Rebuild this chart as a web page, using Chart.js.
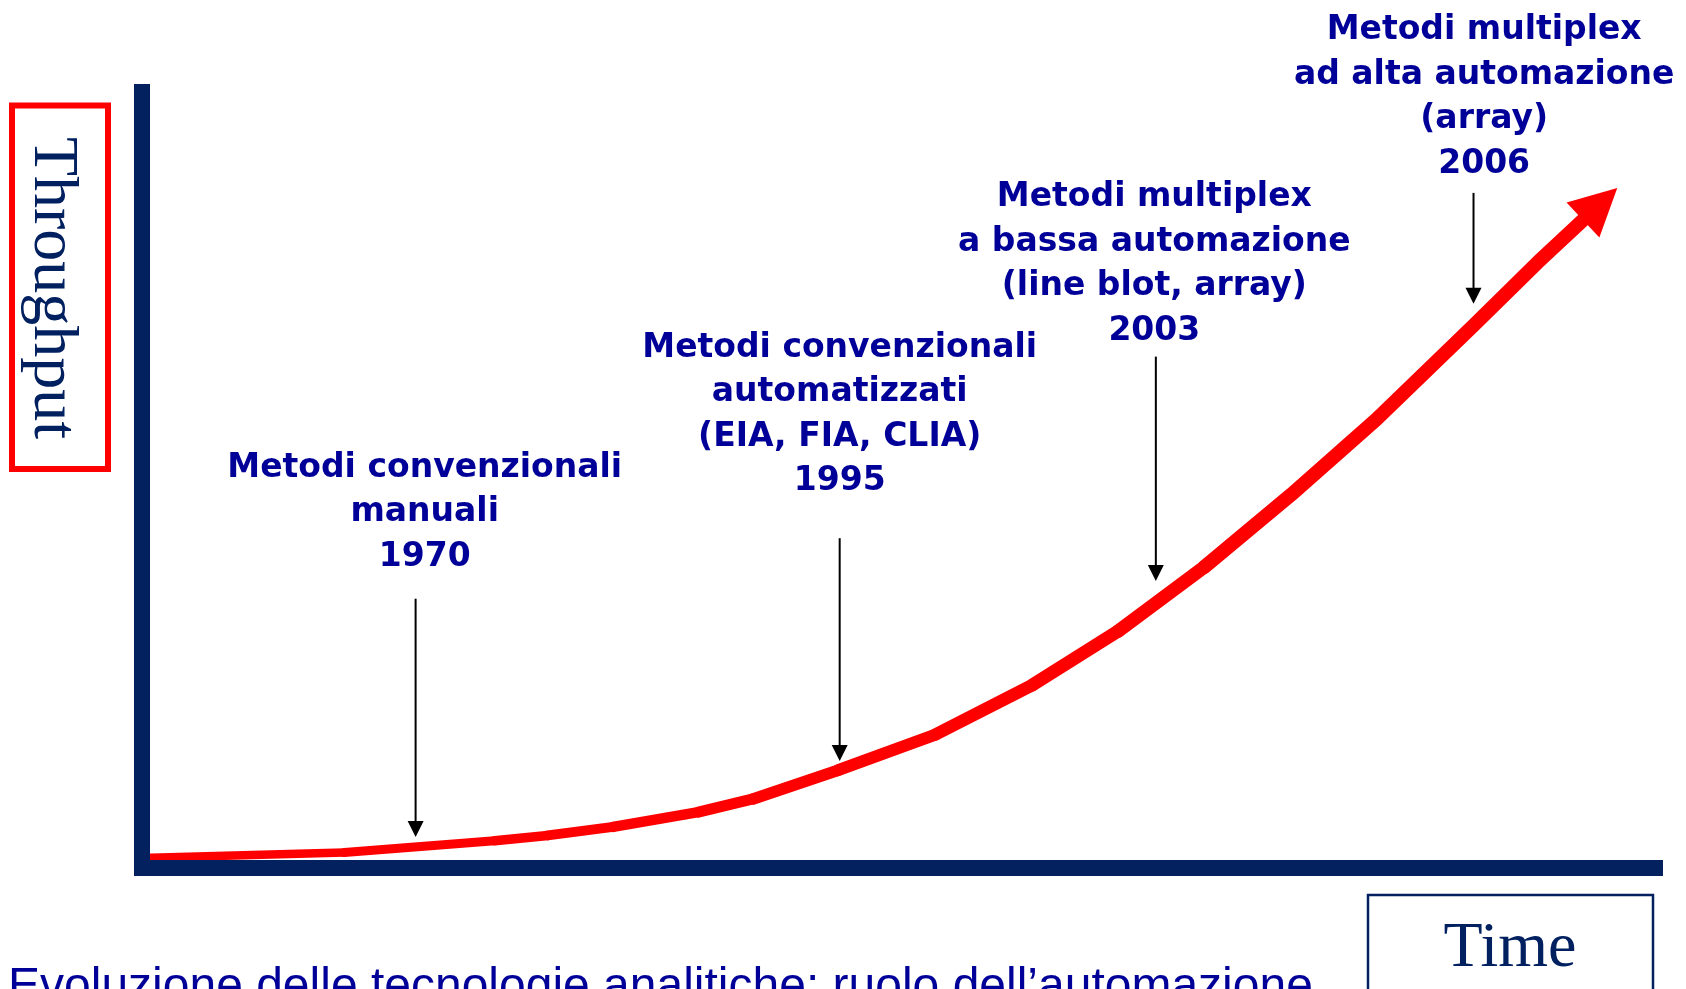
<!DOCTYPE html>
<html>
<head>
<meta charset="utf-8">
<script src="https://cdn.jsdelivr.net/npm/chart.js@4.4.0/dist/chart.umd.min.js"></script>
<style>
  html, body { margin: 0; padding: 0; background: #fff; overflow: hidden; }
  #wrap { width: 1686px; height: 989px; }
</style>
</head>
<body>
<div id="wrap"><canvas id="chart" width="1686" height="989"></canvas></div>
<script>
// Curve: time (0-100, no units) vs throughput (0-100)
const timeValues = [0, 13.3, 23.2, 26.7, 31.0, 36.6, 40.2, 45.8, 52.2, 58.6, 64.2, 69.9, 75.6, 81.2, 87.6, 91.8, 94.8];
const throughputValues = [1.3, 2.0, 3.5, 4.2, 5.3, 7.2, 8.9, 12.6, 17.2, 23.6, 30.5, 38.8, 48.1, 57.8, 69.9, 78.0, 83.5];

// Milestones along the curve
const milestoneYears = ['1970', '1995', '2003', '2006'];
const milestoneLabels = [
    ['Metodi convenzionali', 'manuali'],
    ['Metodi convenzionali', 'automatizzati', '(EIA, FIA, CLIA)'],
    ['Metodi multiplex', 'a bassa automazione', '(line blot, array)'],
    ['Metodi multiplex', 'ad alta automazione', '(array)']
];
const milestoneTime = [18.0, 45.9, 66.7, 87.6];
const arrowTip = [4.0, 13.8, 37.0, 72.7];
const arrowTail = [34.7, 42.5, 65.9, 87.0];
const labelTime = [18.6, 45.9, 66.6, 88.3];
const labelTop = [51.5, 67.0, 86.4, 107.9];

const yAxisTitle = 'Throughput';
const xAxisTitle = 'Time';
const caption = 'Evoluzione delle tecnologie analitiche: ruolo dell\u2019automazione';

const NAVY = '#03205f';
const LABEL_BLUE = '#000099';
const RED = '#ff0000';

const overlay = {
    id: 'overlay',
    afterDatasetsDraw(chart) {
        // arrowhead at the end of the red curve
        const ctx = chart.ctx;
        const pts = chart.getDatasetMeta(0).data;
        const a = pts[pts.length - 2], b = pts[pts.length - 1];
        const len = Math.hypot(b.x - a.x, b.y - a.y);
        const ux = (b.x - a.x) / len, uy = (b.y - a.y) / len;
        const L = 47, W = 24;
        ctx.save();
        ctx.fillStyle = RED;
        ctx.beginPath();
        ctx.moveTo(b.x + ux * L, b.y + uy * L);
        ctx.lineTo(b.x - uy * W, b.y + ux * W);
        ctx.lineTo(b.x + uy * W, b.y - ux * W);
        ctx.closePath();
        ctx.fill();
        ctx.restore();
    },
    afterDraw(chart) {
        const {ctx, scales: {x, y}} = chart;
        ctx.save();

        // milestone arrows + labels
        milestoneYears.forEach((year, i) => {
            const ax = x.getPixelForValue(milestoneTime[i]);
            const top = y.getPixelForValue(arrowTail[i]);
            const tip = y.getPixelForValue(arrowTip[i]);
            ctx.strokeStyle = '#000';
            ctx.lineWidth = 2;
            ctx.beginPath();
            ctx.moveTo(ax, top);
            ctx.lineTo(ax, tip - 12);
            ctx.stroke();
            ctx.fillStyle = '#000';
            ctx.beginPath();
            ctx.moveTo(ax - 8, tip - 16);
            ctx.lineTo(ax + 8, tip - 16);
            ctx.lineTo(ax, tip);
            ctx.closePath();
            ctx.fill();

            const lx = x.getPixelForValue(labelTime[i]);
            const ly = y.getPixelForValue(labelTop[i]);
            ctx.fillStyle = LABEL_BLUE;
            ctx.font = 'bold 33px "DejaVu Sans", Verdana, sans-serif';
            ctx.textAlign = 'center';
            ctx.textBaseline = 'middle';
            [...milestoneLabels[i], year].forEach((t, k) => {
                ctx.fillText(t, lx, ly + k * 44.5);
            });
        });

        // y axis title in red box
        ctx.strokeStyle = RED;
        ctx.lineWidth = 6;
        ctx.strokeRect(12, 105.5, 96, 363.5);
        ctx.save();
        ctx.translate(35, 288);
        ctx.rotate(Math.PI / 2);
        ctx.fillStyle = '#002060';
        ctx.font = '64px "Liberation Serif", "Times New Roman", serif';
        ctx.textAlign = 'center';
        ctx.textBaseline = 'alphabetic';
        ctx.fillText(yAxisTitle, 0, 0);
        ctx.restore();

        // x axis title box
        ctx.strokeStyle = NAVY;
        ctx.lineWidth = 2.5;
        ctx.strokeRect(1368, 895, 285, 120);
        ctx.fillStyle = '#002060';
        ctx.font = '64px "Liberation Serif", "Times New Roman", serif';
        ctx.textAlign = 'center';
        ctx.textBaseline = 'alphabetic';
        ctx.fillText(xAxisTitle, 1510, 966);

        // caption
        ctx.fillStyle = LABEL_BLUE;
        ctx.font = '48px "Liberation Sans", Arial, sans-serif';
        ctx.textAlign = 'left';
        ctx.fillText(caption, 8, 1001);

        ctx.restore();
    }
};

const ctx = document.getElementById('chart').getContext('2d');
new Chart(ctx, {
    type: 'line',
    data: {
        datasets: [{
            data: timeValues.map((t, i) => ({x: t, y: throughputValues[i]})),
            borderColor: RED,
            borderWidth: 11,
            borderCapStyle: 'round',
            borderJoinStyle: 'round',
            pointRadius: 0,
            tension: 0,
            fill: false,
            segment: {
                // the stroke gets a bit thicker as it climbs
                borderWidth: c => Math.min(8.5 + c.p0DataIndex * 0.5, 14)
            }
        }]
    },
    options: {
        responsive: false,
        animation: false,
        devicePixelRatio: 1,
        events: [],
        layout: {padding: {left: 142, right: 24, top: 92, bottom: 121}},
        plugins: {legend: {display: false}, tooltip: {enabled: false}},
        scales: {
            x: {
                type: 'linear', min: 0, max: 100,
                ticks: {display: false},
                grid: {display: false, drawTicks: false},
                border: {display: true, color: NAVY, width: 16, z: 1}
            },
            y: {
                type: 'linear', min: 0, max: 100,
                ticks: {display: false},
                grid: {display: false, drawTicks: false},
                border: {display: true, color: NAVY, width: 16, z: 1}
            }
        }
    },
    plugins: [overlay]
});
</script>
</body>
</html>
